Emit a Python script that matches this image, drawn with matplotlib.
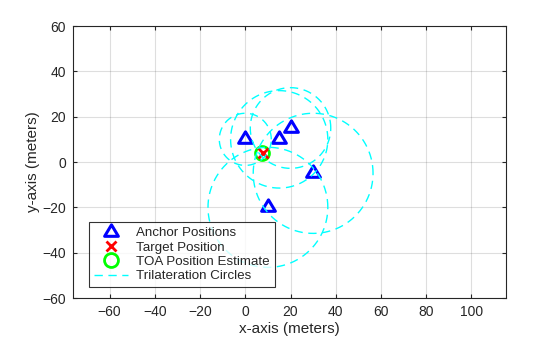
import numpy as np
import matplotlib
matplotlib.use("Agg")
import matplotlib.pyplot as plt
from matplotlib.path import Path

# ---- data ----
anchor_x = [0, 15, 20, 30, 10]
anchor_y = [10, 10, 15, -5, -20]
ranges = [11.5, 21.5, 17.8, 26.5, 26.5]
target_x = [8]
target_y = [4]
est_x = [7.2]
est_y = [3.9]
xticks = [-60, -40, -20, 0, 20, 40, 60, 80, 100]
yticks = [-60, -40, -20, 0, 20, 40, 60]

plt.rcParams['font.family'] = ['Liberation Sans', 'DejaVu Sans']
txt = (0.15, 0.15, 0.15)

fig = plt.figure(figsize=(5.6, 3.37), dpi=100)
ax = fig.add_axes([73/560, 1-298/337, (506-73)/560, (298-26)/337])

tri = Path([(0, 2/3), (-0.6, -1/3), (0.6, -1/3), (0, 2/3)],
           [Path.MOVETO, Path.LINETO, Path.LINETO, Path.CLOSEPOLY])

ax.plot(anchor_x, anchor_y, linestyle='none', marker=tri, ms=11, mew=2.2,
        mfc='none', mec=(0, 0, 1), label='Anchor Positions', zorder=3)
ax.plot(target_x, target_y, linestyle='none', marker='x', ms=7, mew=2,
        color=(1, 0, 0), label='Target Position', zorder=4)
ax.plot(est_x, est_y, linestyle='none', marker='o', ms=10, mew=2,
        mfc='none', mec=(0, 1, 0), label='TOA Position Estimate', zorder=3)

t = np.linspace(0, 2*np.pi, 400)
for i, (cx, cy, r) in enumerate(zip(anchor_x, anchor_y, ranges)):
    ax.plot(cx + r*np.cos(t), cy + r*np.sin(t), color=(0, 1, 1), lw=1,
            dashes=(6, 4), label='Trilateration Circles' if i == 0 else None,
            zorder=5)

ax.set_xlim(-76.2, 115.3)
ax.set_ylim(-60, 60)
ax.set_xticks(xticks)
ax.set_yticks(yticks)
ax.grid(True, color=(0.15, 0.15, 0.15), alpha=0.15, lw=0.8)
ax.set_axisbelow(True)
ax.tick_params(direction='in', top=True, right=True, length=3,
               labelsize=10, colors=txt, pad=5)
for sp in ax.spines.values():
    sp.set_color(txt)
    sp.set_linewidth(0.8)
ax.set_xlabel('x-axis (meters)', fontsize=11, color=txt, labelpad=2)
ax.set_ylabel('y-axis (meters)', fontsize=11, color=txt, labelpad=2)

leg = ax.legend(loc='lower left', bbox_to_anchor=(0.037, 0.04),
                borderaxespad=0, fontsize=9.6, frameon=True, fancybox=False,
                edgecolor='black', handlelength=2.6, handletextpad=0.6,
                borderpad=0.35, labelspacing=0.15)
leg.get_frame().set_linewidth(0.8)
for tx in leg.get_texts():
    tx.set_color(txt)

fig.savefig('out.png', dpi=100)
